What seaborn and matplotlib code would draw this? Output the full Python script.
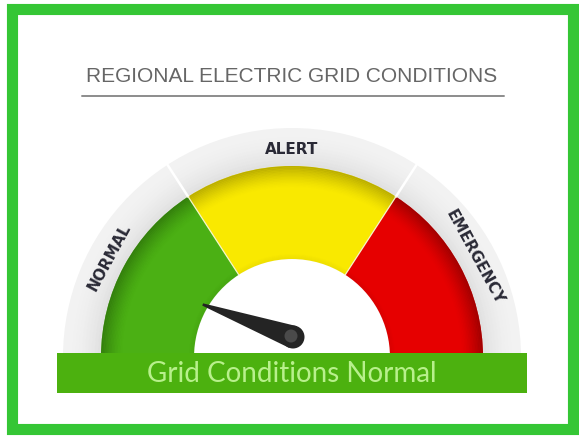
import numpy as np
import matplotlib.pyplot as plt
import seaborn as sns
from matplotlib.patches import Wedge, Rectangle, Polygon, Circle

title = "REGIONAL ELECTRIC GRID CONDITIONS"
zones = ["NORMAL", "ALERT", "EMERGENCY"]
zone_edges = [0, 31.7, 68.3, 100]
zone_colors = ["#4bb014", "#f9e900", "#e60000"]
zone_shades = ["#2c700a", "#a89c00", "#8c0000"]
reading = 11
status = "Grid Conditions Normal"

sns.set_theme(style="white")

fig = plt.figure(figsize=(5.79, 4.36), dpi=100)
ax = fig.add_axes([0, 0, 1, 1])
ax.set_xlim(0, 579)
ax.set_ylim(0, 436)
ax.axis("off")

cx, cy = 292, 79
r_out, r_mid, r_in = 229, 191, 98


def ang(v):
    return 180 - v * 1.8


# grey outer ring, a bit darker at the inside
n = 12
for i in range(n):
    r = r_out - i * (r_out - r_mid) / n
    g = 0.95 - 0.08 * (i / n) ** 2
    ax.add_patch(Wedge((cx, cy), r, 0, 180, width=(r_out - r_mid) / n + 0.5,
                       color=(g, g, g), lw=0))

# coloured zones with a shaded outer edge
for lo, hi, col, shade in zip(zone_edges[:-1], zone_edges[1:], zone_colors, zone_shades):
    a1, a2 = ang(hi), ang(lo)
    ax.add_patch(Wedge((cx, cy), r_mid, a1, a2, width=r_mid - r_in, color=col, lw=0))
    for i in range(14):
        ax.add_patch(Wedge((cx, cy), r_mid - i * 1.5, a1, a2, width=1.6,
                           color=shade, alpha=0.75 * (1 - i / 14) ** 1.5, lw=0))
    for i in range(6):
        ax.add_patch(Wedge((cx, cy), r_in + 6 - i, a1, a2, width=1.2,
                           color=shade, alpha=0.12 * (i / 6), lw=0))

# dividers
for v in zone_edges[1:-1]:
    t = np.radians(ang(v))
    ax.plot([cx + r_mid * np.cos(t), cx + r_out * np.cos(t)],
            [cy + r_mid * np.sin(t), cy + r_out * np.sin(t)], color="white", lw=1.8)
    ax.plot([cx + r_in * np.cos(t), cx + r_mid * np.cos(t)],
            [cy + r_in * np.sin(t), cy + r_mid * np.sin(t)], color="#f4f4c8", lw=0.9)

# zone labels on the grey ring
r_lab = 208
for lo, hi, name in zip(zone_edges[:-1], zone_edges[1:], zones):
    a = ang((lo + hi) / 2)
    t = np.radians(a)
    ax.text(cx + r_lab * np.cos(t), cy + r_lab * np.sin(t), name,
            rotation=a - 90, ha="center", va="center", fontsize=11,
            fontweight="bold", color="#2a2a36", family="DejaVu Sans",
            rotation_mode="anchor")

# needle
hx, hy = cx + 1, cy + 20
t = np.radians(ang(reading))
L, w = 96, 11.5
tip = (hx + L * np.cos(t), hy + L * np.sin(t))
px, py = -np.sin(t), np.cos(t)
tx, ty = np.cos(t), np.sin(t)
ax.add_patch(Polygon([(tip[0] + 1.2 * px, tip[1] + 1.2 * py),
                      (tip[0] - 1.2 * px, tip[1] - 1.2 * py),
                      (hx - w * px, hy - w * py), (hx + w * px, hy + w * py)],
                     closed=True, color="#242424", lw=0, zorder=5))
ax.add_patch(Circle((hx, hy), w, color="#242424", lw=0, zorder=5))
ax.add_patch(Circle((hx - 2, hy + 1), 6.5, color="#4a4a4a", lw=0, zorder=6))

# status banner
ax.add_patch(Rectangle((57, 43), 470, 40, color="#4cb10f", lw=0, zorder=7))
ax.text(292, 62, status, ha="center", va="center", fontsize=20,
        color="#b8f08c", family="Lato", zorder=8)

# title + rule
ax.text(292, 359, title, ha="center", va="center", fontsize=15,
        color="#666666", family=["Liberation Sans Narrow", "Liberation Sans"])
ax.plot([82, 504], [340, 340], color="#8c8c8c", lw=1.4)

# green frame
ax.add_patch(Rectangle((12, 7), 561, 419.5, fill=False, ec="#35c635", lw=8))

fig.savefig("out.png", dpi=100)
